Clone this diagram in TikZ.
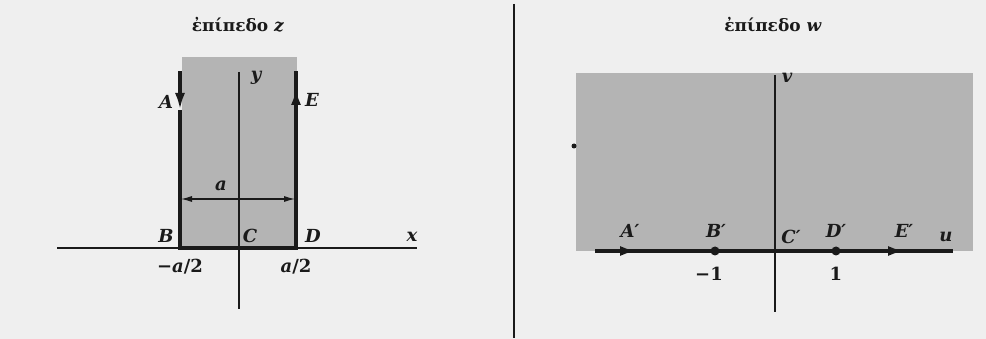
\documentclass[tikz,border=0pt]{standalone}
\usepackage{fontspec}
\setmainfont{DejaVu Serif}
\usetikzlibrary{arrows.meta}
\definecolor{paper}{HTML}{EFEFEF}
\definecolor{shade}{HTML}{B4B4B4}
\definecolor{ink}{HTML}{1A1A1A}
\begin{document}
\begin{tikzpicture}[x=1pt,y=-1pt,
  thinax/.style={draw=ink,line width=1.4pt},
  thickln/.style={draw=ink,line width=3.4pt},
  headed/.style={thickln,-{Latex[length=17pt,width=10pt]}},
  region/.style={fill=shade,draw=none},
  lbl/.style={font=\fontsize{18}{20}\selectfont\bfseries\itshape,text=ink,inner sep=0pt},
  num/.style={font=\fontsize{18}{20}\selectfont\bfseries,text=ink,inner sep=0pt},
  ttl/.style={font=\fontsize{17}{20}\selectfont\bfseries,text=ink,inner sep=0pt},
  dotpt/.style={circle,fill=ink,inner sep=0pt,minimum size=9pt}
]
\useasboundingbox (0,0) rectangle (986,339);
\fill[paper] (0,0) rectangle (986,339);

% divider
\coordinate (divT) at (514,4);
\coordinate (divB) at (514,338);
\draw[thinax] (divT) -- (divB);

% ===== z plane =====
\node[ttl] (tz) at (238,25) {ἐπίπεδο \textit{z}};
\fill[region] (182,57) rectangle (297,248);
\coordinate (Atop) at (180,71);
\coordinate (Atip) at (180,110);
\coordinate (B) at (180,248);
\coordinate (D) at (296,248);
\coordinate (Etip) at (296,88);
\coordinate (Etop) at (296,71);
\coordinate (xL) at (57,248);
\coordinate (xR) at (417,248);
\coordinate (yT) at (239,72);
\coordinate (yB) at (239,309);
\draw[thinax] (xL) -- (xR);
\draw[thinax] (yT) -- (yB);
\draw[headed] (Atop) -- (Atip);
\draw[thickln] (Atip) -- (B) -- (D) -- (Etop);
\draw[headed] (D) -- (Etip);
\coordinate (dimL) at (181,199);
\coordinate (dimR) at (295,199);
\draw[draw=ink,line width=1.1pt,{Latex[length=11pt,width=6pt]}-{Latex[length=11pt,width=6pt]}] (dimL) -- (dimR);
\node[lbl] (la) at (221,186) {a};
\node[lbl] (lA) at (166,102) {A};
\node[lbl] (lE) at (312,100) {E};
\node[lbl] (ly) at (256,78) {y};
\node[lbl] (lx) at (412,237) {x};
\node[lbl] (lB) at (166,236) {B};
\node[lbl] (lC) at (250,236) {C};
\node[lbl] (lD) at (313,236) {D};
\node[num] (lma) at (180,267) {−\textit{a}/2};
\node[num] (lpa) at (296,267) {\textit{a}/2};

% ===== w plane =====
\node[ttl] (tw) at (773,25) {ἐπίπεδο \textit{w}};
\fill[region] (576,73) rectangle (973,251);
\coordinate (vT) at (775,75);
\coordinate (vB) at (775,312);
\draw[thinax] (vT) -- (vB);
\coordinate (uL) at (595,251);
\coordinate (uA) at (637,251);
\coordinate (uM1) at (715,251);
\coordinate (uM2) at (836,251);
\coordinate (uE) at (905,251);
\coordinate (uR) at (953,251);
\draw[thickln] (uL) -- (uR);
\draw[headed] (uL) -- (uA);
\draw[headed] (uM2) -- (uE);
\node[dotpt] (Bp) at (uM1) {};
\node[dotpt] (Dp) at (uM2) {};
\node[circle,fill=ink,inner sep=0pt,minimum size=5pt] (speck) at (574,146) {};
\node[lbl] (lv) at (787,78) {v};
\node[lbl] (lu) at (946,237) {u};
\node[lbl] (lAp) at (630,231) {A′};
\node[lbl] (lBp) at (716,231) {B′};
\node[lbl] (lCp) at (791,237) {C′};
\node[lbl] (lDp) at (836,231) {D′};
\node[lbl] (lEp) at (904,231) {E′};
\node[num] (lm1) at (709,274) {−1};
\node[num] (lp1) at (836,274) {1};
\end{tikzpicture}
\end{document}
